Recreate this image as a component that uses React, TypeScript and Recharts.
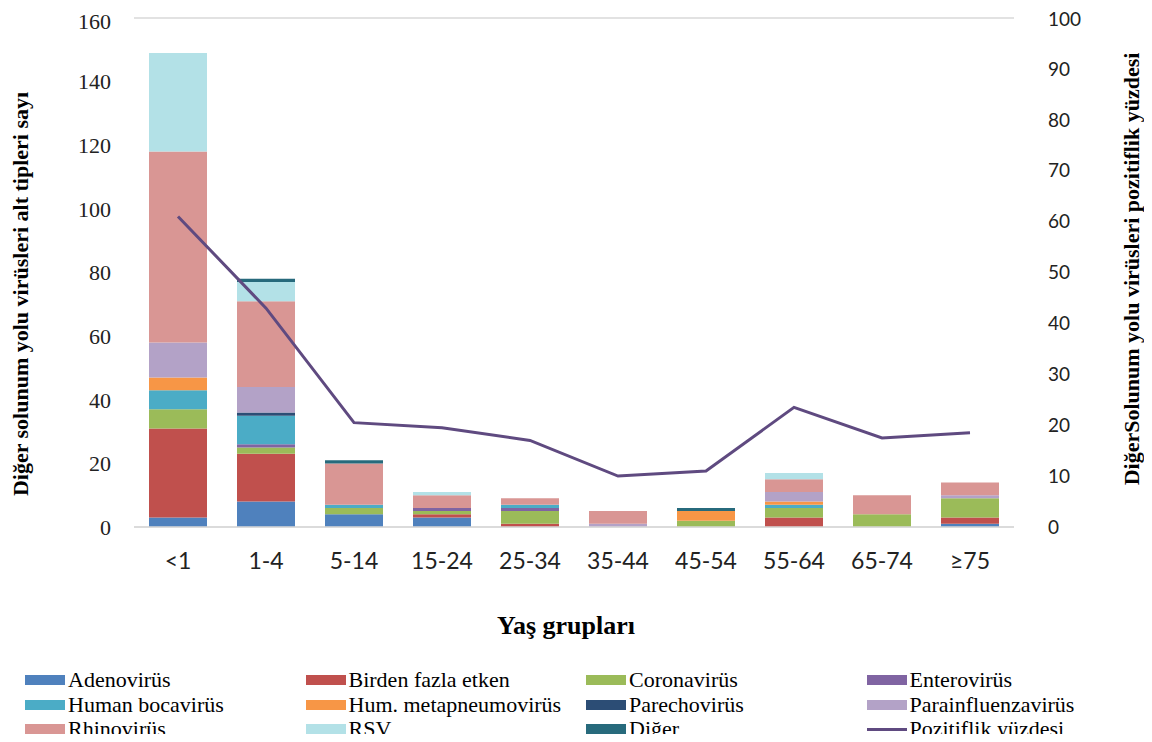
import { ComposedChart, Bar, Line, XAxis, YAxis, CartesianGrid, Label } from 'recharts';

const categories = ['<1', '1-4', '5-14', '15-24', '25-34', '35-44', '45-54', '55-64', '65-74', '≥75'];

const adeno = [3, 8, 4, 3, 0, 0, 0, 0, 0, 1];
const multiple = [28, 15, 0, 1, 1, 0, 0, 3, 0, 2];
const corona = [6, 2, 2, 1, 4, 0, 2, 3, 4, 6];
const entero = [0, 1, 0, 1, 1, 0, 0, 0, 0, 0];
const boca = [6, 9, 1, 0, 1, 0, 0, 1, 0, 0];
const hmpv = [4, 0, 0, 0, 0, 0, 3, 1, 0, 0];
const parecho = [0, 1, 0, 0, 0, 0, 0, 0, 0, 0];
const parainfluenza = [11, 8, 0, 0, 0, 1, 0, 3, 0, 1];
const rhino = [60, 27, 13, 4, 2, 4, 0, 4, 6, 4];
const rsv = [31, 6, 0, 1, 0, 0, 0, 2, 0, 0];
const diger = [0, 1, 1, 0, 0, 0, 1, 0, 0, 0];
const positivity = [61, 43, 20.5, 19.5, 17, 10, 11, 23.5, 17.5, 18.5];

const leftTicks = [0, 20, 40, 60, 80, 100, 120, 140, 160];
const rightTicks = [0, 10, 20, 30, 40, 50, 60, 70, 80, 90, 100];

const series = [
  { key: 'adeno', name: 'Adenovirüs', color: '#4F81BD', values: adeno },
  { key: 'multiple', name: 'Birden fazla etken', color: '#C0504D', values: multiple },
  { key: 'corona', name: 'Coronavirüs', color: '#9BBB59', values: corona },
  { key: 'entero', name: 'Enterovirüs', color: '#8064A2', values: entero },
  { key: 'boca', name: 'Human bocavirüs', color: '#4BACC6', values: boca },
  { key: 'hmpv', name: 'Hum. metapneumovirüs', color: '#F79646', values: hmpv },
  { key: 'parecho', name: 'Parechovirüs', color: '#2C4D75', values: parecho },
  { key: 'para', name: 'Parainfluenzavirüs', color: '#B3A2C7', values: parainfluenza },
  { key: 'rhino', name: 'Rhinovirüs', color: '#D99694', values: rhino },
  { key: 'rsv', name: 'RSV', color: '#B3E1E7', values: rsv },
  { key: 'diger', name: 'Diğer', color: '#276A7C', values: diger },
];

const lineColor = '#5F4A80';

const data = categories.map((c, i) => {
  const row: Record<string, string | number> = { group: c, pos: positivity[i] };
  series.forEach((s) => {
    row[s.key] = s.values[i];
  });
  return row;
});

const serif = '"Liberation Serif", "Times New Roman", serif';
const sans = 'Lato, "Liberation Sans", sans-serif';

const VTitle = ({ x, y, text }: { x: number; y: number; text: string }) => (
  <text
    x={x}
    y={y}
    transform={`rotate(-90 ${x} ${y})`}
    textAnchor="middle"
    dominantBaseline="central"
    fontFamily={serif}
    fontWeight="bold"
    fontSize={22}
    fill="#000"
  >
    {text}
  </text>
);

export default function App() {
  const legendItems = [
    ...series.map((s) => ({ name: s.name, color: s.color, line: false })),
    { name: 'Pozitiflik yüzdesi', color: lineColor, line: true },
  ];

  return (
    <div style={{ position: 'relative', width: 1136, height: 726 }}>
      <ComposedChart
        width={1136}
        height={726}
        data={data}
        margin={{ top: 10, right: 0, left: 0, bottom: 127 }}
        barSize={58}
      >
        <CartesianGrid vertical={false} stroke="#D9D9D9" strokeWidth={1.5} />
        <XAxis
          dataKey="group"
          height={80}
          tickLine={false}
          axisLine={{ stroke: '#D9D9D9', strokeWidth: 1.5 }}
          tickMargin={20}
          tick={{ fontFamily: sans, fontSize: 23, fill: '#222' }}
          interval={0}
        >
          <Label
            content={() => (
              <text
                x={558}
                y={617}
                textAnchor="middle"
                dominantBaseline="central"
                fontFamily={serif}
                fontWeight="bold"
                fontSize={26}
                fill="#000"
              >
                Yaş grupları
              </text>
            )}
          />
        </XAxis>
        <YAxis
          yAxisId="left"
          width={126}
          domain={[0, 160]}
          ticks={leftTicks}
          axisLine={false}
          tickLine={false}
          tickSize={0}
          tickMargin={23}
          tick={{ fontFamily: serif, fontSize: 22, fill: '#222' }}
        >
          <Label content={() => <VTitle x={12} y={286} text="Diğer solunum yolu virüsleri alt tipleri sayı" />} />
        </YAxis>
        <YAxis
          yAxisId="right"
          orientation="right"
          width={130}
          domain={[0, 100]}
          ticks={rightTicks}
          axisLine={false}
          tickLine={false}
          tickSize={0}
          tickMargin={34}
          tick={{ fontFamily: sans, fontSize: 19, fill: '#222' }}
        >
          <Label
            content={() => <VTitle x={1123} y={261} text="DiğerSolunum yolu virüsleri pozitiflik  yüzdesi" />}
          />
        </YAxis>
        {series.map((s) => (
          <Bar
            key={s.key}
            yAxisId="left"
            dataKey={s.key}
            name={s.name}
            stackId="a"
            fill={s.color}
            isAnimationActive={false}
          />
        ))}
        <Line
          yAxisId="right"
          dataKey="pos"
          name="Pozitiflik yüzdesi"
          stroke={lineColor}
          strokeWidth={3}
          dot={false}
          type="linear"
          isAnimationActive={false}
        />
      </ComposedChart>
      {legendItems.map((item, i) => {
        const col = i % 4;
        const row = Math.floor(i / 4);
        return (
          <div
            key={item.name}
            style={{
              position: 'absolute',
              left: 17 + col * 280.5,
              top: 661 + row * 24.5,
              height: 22,
              lineHeight: '22px',
              display: 'flex',
              alignItems: 'center',
              fontFamily: serif,
              fontSize: 22,
              color: '#000',
              whiteSpace: 'nowrap',
            }}
          >
            <span
              style={{
                display: 'inline-block',
                width: 40,
                height: item.line ? 3 : 10,
                background: item.color,
                marginRight: 3,
              }}
            />
            {item.name}
          </div>
        );
      })}
    </div>
  );
}
